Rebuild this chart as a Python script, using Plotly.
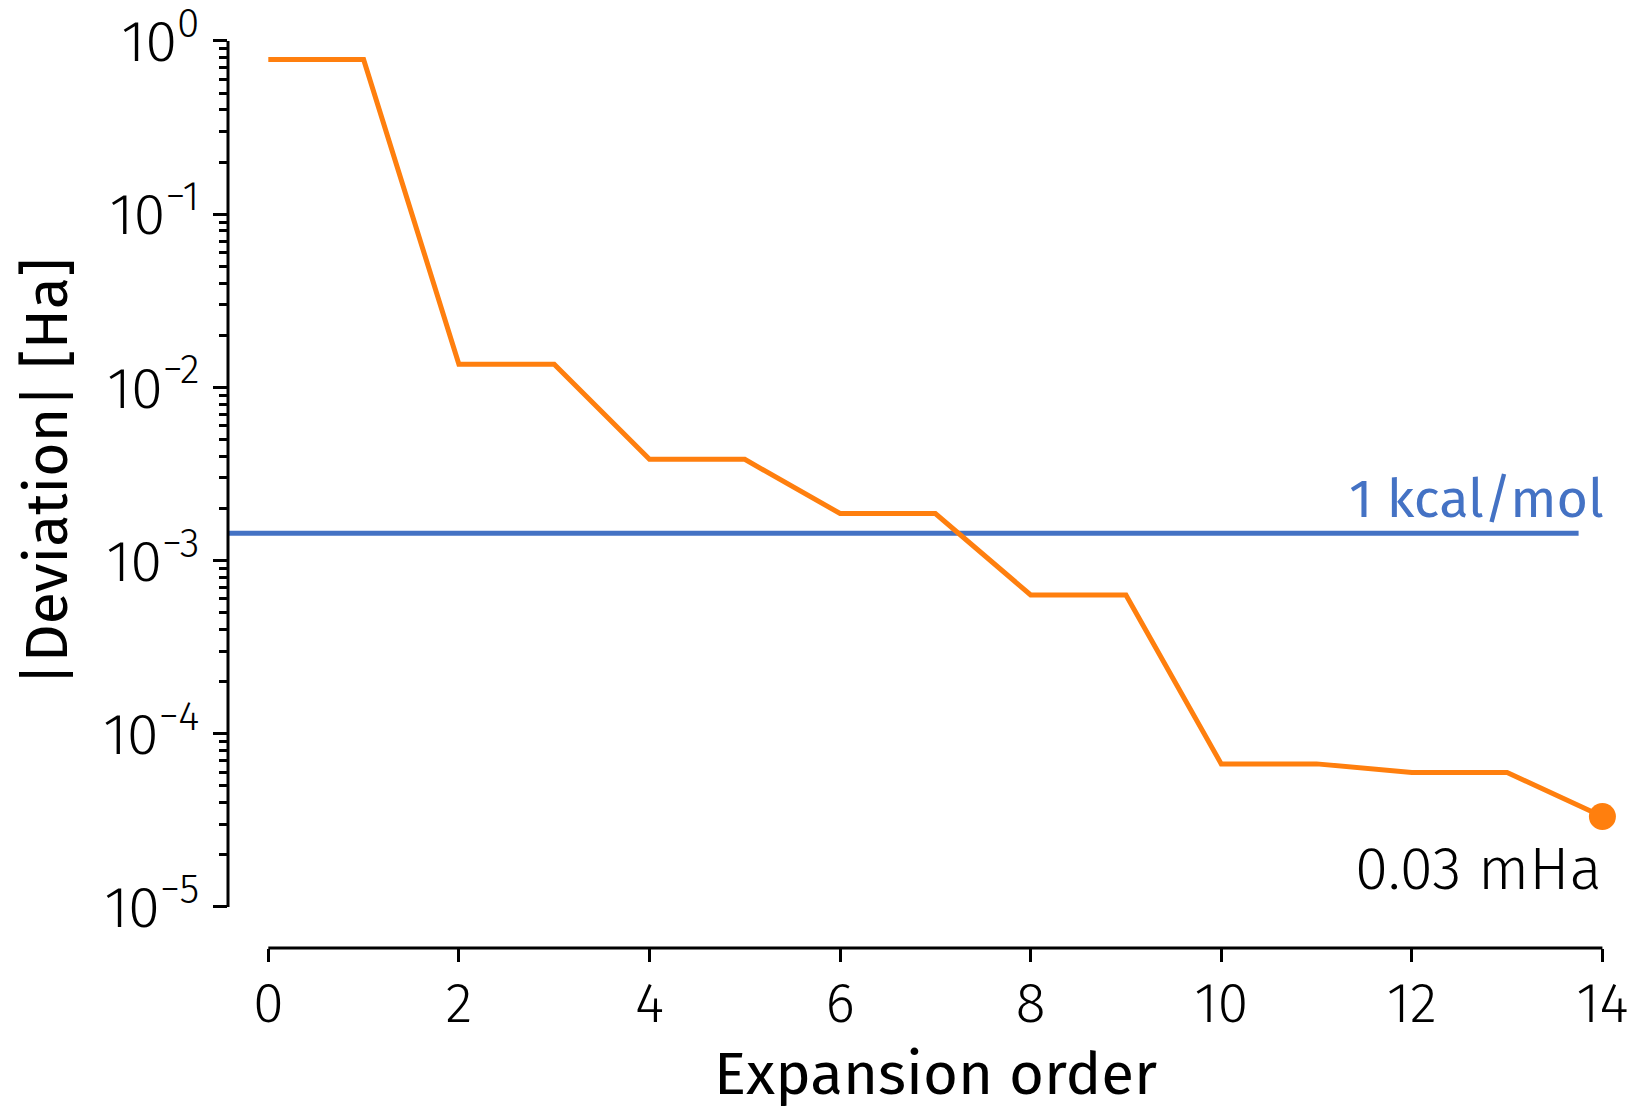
import math
import plotly.graph_objects as go

# ---- data ----
orders = list(range(15))
deviation = [0.782, 0.782, 0.01358, 0.01358, 3.84e-3, 3.84e-3, 1.87e-3, 1.87e-3,
             6.33e-4, 6.33e-4, 6.7e-5, 6.7e-5, 5.97e-5, 5.97e-5, 3.33e-5]
threshold = 1.44e-3           # 1 kcal/mol in Ha
threshold_x = [-0.423, 13.75]
x_ticks = [0, 2, 4, 6, 8, 10, 12, 14]
y_exps = [0, -1, -2, -3, -4, -5]
y_tickvals = [10.0 ** e for e in y_exps]
y_ticktext = ["10<sup>%s</sup>" % (str(e).replace("-", "\u2212")) for e in y_exps]
y_minor = [m * 10.0 ** e for e in range(-5, 0) for m in range(2, 10)]

X_RANGE = [-0.423, 14.3]
Y_RANGE = [-5.237, 0.098]

ORANGE = "#ff7f0e"
BLUE = "#4472c4"
FONT = "Fira Sans, Roboto, Open Sans, sans-serif"


def px_(v):
    return (v - X_RANGE[0]) / (X_RANGE[1] - X_RANGE[0])


def py_(v):
    return (v - Y_RANGE[0]) / (Y_RANGE[1] - Y_RANGE[0])


fig = go.Figure()
fig.add_trace(go.Scatter(x=threshold_x, y=[threshold, threshold], mode="lines",
                         line=dict(color=BLUE, width=5), showlegend=False, hoverinfo="skip"))
fig.add_trace(go.Scatter(x=orders, y=deviation, mode="lines",
                         line=dict(color=ORANGE, width=5), showlegend=False))
fig.add_trace(go.Scatter(x=[orders[-1]], y=[deviation[-1]], mode="markers",
                         marker=dict(color=ORANGE, size=27), showlegend=False))

# trimmed spines (seaborn-style despine(trim=True))
fig.add_shape(type="line", xref="paper", yref="paper", x0=px_(min(x_ticks)), x1=px_(max(x_ticks)),
              y0=0, y1=0, line=dict(color="black", width=3), layer="above")
fig.add_shape(type="line", xref="paper", yref="paper", x0=0, x1=0,
              y0=py_(min(y_exps)), y1=py_(max(y_exps)), line=dict(color="black", width=3),
              layer="above")

fig.add_annotation(x=orders[-1], y=math.log10(threshold), xref="x", yref="y",
                   text="1 kcal/mol", showarrow=False, xanchor="right", yanchor="bottom",
                   yshift=0, xshift=4, font=dict(family=FONT, size=54, color=BLUE))
fig.add_annotation(x=orders[-1], y=math.log10(deviation[-1]), xref="x", yref="y",
                   text="0.03 mHa", showarrow=False, xanchor="right", yanchor="top",
                   yshift=-15, xshift=2, font=dict(family=FONT, size=60, color="black", weight=300))
# axis titles
fig.add_annotation(x=(47 - 228) / 1403, y=0.515, xref="paper", yref="paper",
                   xanchor="center", yanchor="middle",
                   text="|Deviation| [Ha]", showarrow=False, textangle=-90,
                   font=dict(family=FONT, size=59, color="black"))
fig.add_annotation(x=(936 - 228) / 1403, y=(948 - 1074) / 924, xref="paper", yref="paper",
                   xanchor="center", yanchor="middle",
                   text="Expansion order", showarrow=False,
                   font=dict(family=FONT, size=60, color="black"))

fig.update_xaxes(range=X_RANGE, tickvals=x_ticks, ticks="outside", ticklen=13, tickwidth=3,
                 tickcolor="black", showline=False, showgrid=False, zeroline=False,
                 automargin=False, ticklabelstandoff=-7, ticklabeloverflow="allow",
                 tickfont=dict(family=FONT, size=56, color="black", weight=300))
fig.update_yaxes(type="log", range=Y_RANGE, tickmode="array", tickvals=y_tickvals,
                 ticktext=y_ticktext, ticks="outside", ticklen=14, tickwidth=3, tickcolor="black",
                 showline=False, showgrid=False, zeroline=False, ticklabelstandoff=2,
                 automargin=False, ticklabeloverflow="allow",
                 minor=dict(tickmode="array", tickvals=y_minor, ticks="outside", ticklen=8,
                            tickwidth=3, tickcolor="black", showgrid=False),
                 tickfont=dict(family=FONT, size=58, color="black", weight=300))

fig.update_layout(width=1637, height=1106, plot_bgcolor="white", paper_bgcolor="white",
                  margin=dict(l=228, r=6, t=24, b=158), showlegend=False)

fig.write_html("out.html")
